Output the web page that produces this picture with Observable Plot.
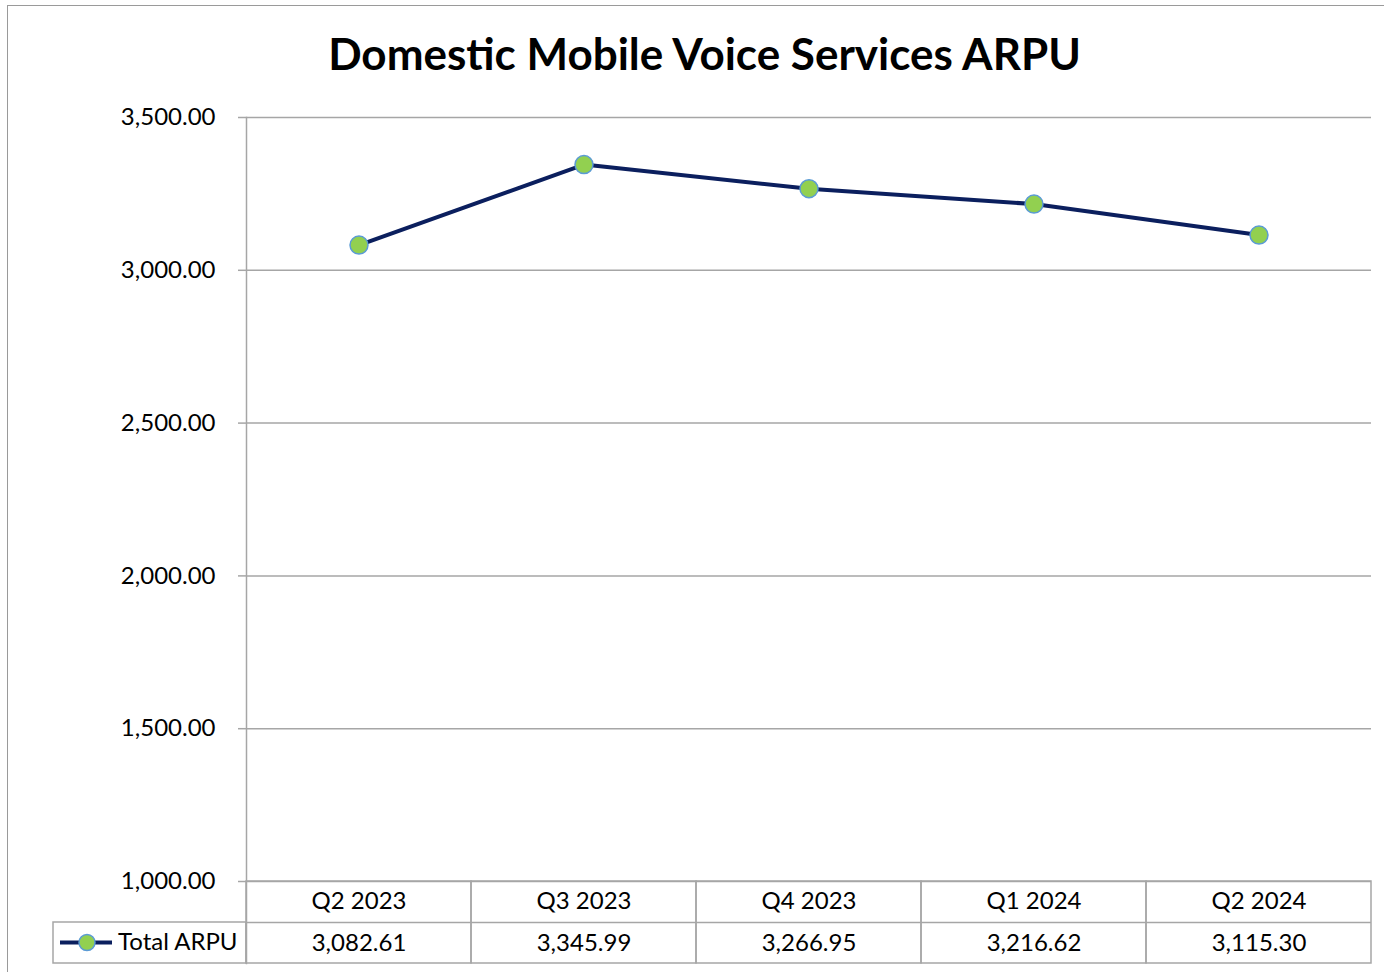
<!DOCTYPE html>
<html>
<head>
<meta charset="utf-8">
<script src="https://cdn.jsdelivr.net/npm/d3@7"></script>
<script src="https://cdn.jsdelivr.net/npm/@observablehq/plot@0.6"></script>
<style>
  html, body { margin: 0; padding: 0; background: #fff; overflow: hidden; }
  #wrap { position: relative; width: 1384px; height: 972px; }
  #border { position: absolute; left: 7px; top: 5px; width: 1400px; height: 1000px; border: 1.5px solid #9a9a9a; box-sizing: border-box; }
  #chart { position: absolute; left: 0; top: 0; }
</style>
</head>
<body>
<div id="wrap"><div id="border"></div><div id="chart"></div></div>
<script>
const title = "Domestic Mobile Voice Services ARPU";
const seriesName = "Total ARPU";
const quarters = ["Q2 2023", "Q3 2023", "Q4 2023", "Q1 2024", "Q2 2024"];
const arpu = [3082.61, 3345.99, 3266.95, 3216.62, 3115.30];
const yTicks = [1000, 1500, 2000, 2500, 3000, 3500];

const data = quarters.map((q, i) => ({q, v: arpu[i]}));
const fmt = d3.format(",.2f");
const grid = "#a6a6a6";
const navy = "#0b1f5e";
const FONT = "Lato, 'Open Sans', sans-serif";

const chart = Plot.plot({
  width: 1384,
  height: 972,
  marginLeft: 246,
  marginRight: 13,
  marginTop: 117,
  marginBottom: 91,
  style: {fontFamily: FONT, fontSize: "24px", color: "#000", background: "transparent"},
  x: {type: "band", domain: quarters, padding: 0, axis: null},
  y: {domain: [1000, 3500], axis: null},
  marks: [
    Plot.gridY(yTicks, {stroke: grid, strokeOpacity: 1, strokeWidth: 1.5}),
    Plot.axisY({ticks: yTicks, tickFormat: fmt, tickSize: 8, tickPadding: 23, fontSize: 24, stroke: grid, strokeWidth: 1.5, fill: "#000", label: null}),
    // table columns
    Plot.barY(data, {x: "q", y1: () => 1000, y2: () => 1000, insetBottom: -82, fill: "none", stroke: grid, strokeWidth: 1.5}),
    Plot.ruleY([1000], {dy: 41, stroke: grid, strokeWidth: 1.5}),
    // legend cell
    Plot.barY([quarters[0]], {x: d => d, y1: () => 1000, y2: () => 1000, dy: 41, insetBottom: -41, insetLeft: -193, insetRight: 225, fill: "none", stroke: grid, strokeWidth: 1.5}),
    // axis line
    Plot.frame({anchor: "left", insetBottom: -82, stroke: grid, strokeWidth: 1.5}),
    // series
    Plot.line(data, {x: "q", y: "v", stroke: navy, strokeWidth: 4}),
    Plot.dot(data, {x: "q", y: "v", r: 9, fill: "#92d050", stroke: "#5b9bd5", strokeWidth: 1.5}),
    // table text
    Plot.text(data, {x: "q", frameAnchor: "bottom", dy: 27, text: "q", fontSize: 24, fill: "#000"}),
    Plot.text(data, {x: "q", frameAnchor: "bottom", dy: 69, text: d => fmt(d.v), fontSize: 24, fill: "#000"}),
    // legend
    Plot.tickY([1000], {x: () => quarters[0], dy: 61, insetLeft: -186, insetRight: 359, stroke: navy, strokeWidth: 4}),
    Plot.dot([quarters[0]], {x: d => d, frameAnchor: "bottom", dy: 61, dx: -272, r: 8, fill: "#92d050", stroke: "#5b9bd5", strokeWidth: 1.5}),
    Plot.text([seriesName], {x: () => quarters[0], frameAnchor: "bottom", dy: 68, dx: -241, text: d => d, textAnchor: "start", fontSize: 24, fill: "#000"}),
    // title
    Plot.text([title], {frameAnchor: "top", dy: -62, dx: -104.5, text: d => d, fontSize: 44, fontWeight: "bold", fill: "#000", lineAnchor: "middle"})
  ]
});
document.getElementById("chart").appendChild(chart);
</script>
</body>
</html>
